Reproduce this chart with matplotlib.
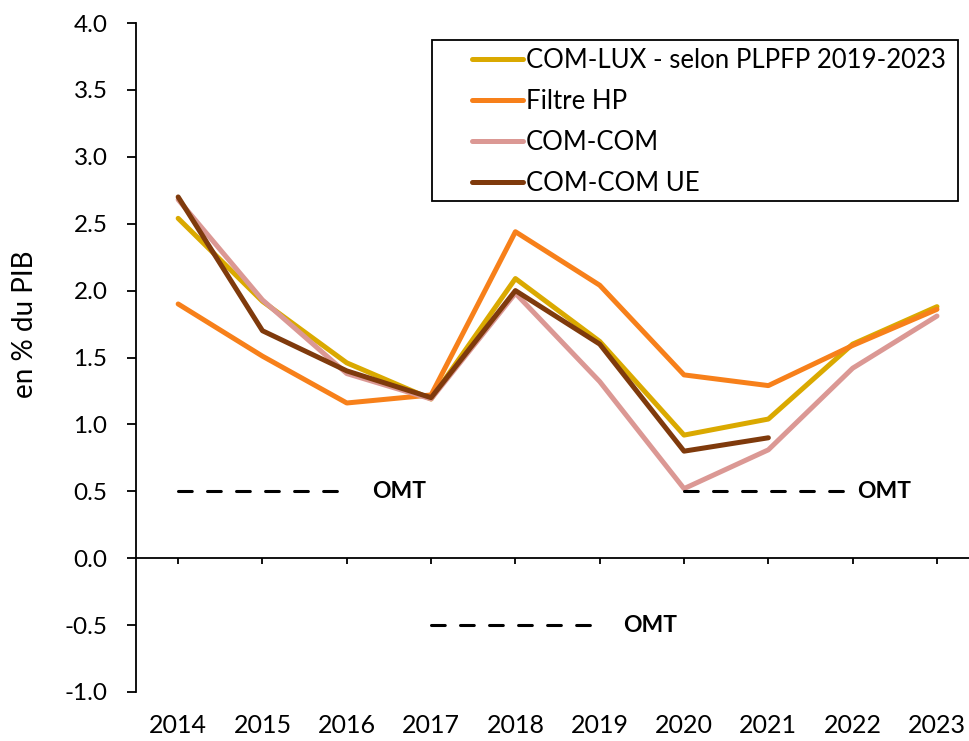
import matplotlib
matplotlib.use('Agg')
from matplotlib import pyplot as plt
from matplotlib.patches import Rectangle

years = ['2014', '2015', '2016', '2017', '2018', '2019', '2020', '2021', '2022', '2023']
com_lux = [2.54, 1.92, 1.46, 1.19, 2.09, 1.62, 0.92, 1.04, 1.60, 1.88]
filtre_hp = [1.90, 1.51, 1.16, 1.22, 2.44, 2.04, 1.37, 1.29, 1.59, 1.86]
com_com = [2.68, 1.93, 1.38, 1.19, 1.98, 1.32, 0.52, 0.81, 1.42, 1.81]
com_com_ue = [2.70, 1.70, 1.40, 1.20, 2.00, 1.60, 0.80, 0.90]

# OMT segments: (start index, end index, value)
omt = [(0, 2, 0.5), (3, 5, -0.5), (6, 8, 0.5)]
omt_label_x = [2.30, 5.28, 8.05]

plt.rcParams['font.family'] = ['Lato', 'DejaVu Sans']

W, H = 969, 741
fig = plt.figure(figsize=(W / 100, H / 100), dpi=100)
ax = fig.add_axes([136 / W, 49 / H, 833 / W, 669 / H])

x = list(range(len(years)))
lw = 3.6
ax.plot(x, com_lux, color='#DAA900', lw=lw, label='COM-LUX - selon PLPFP 2019-2023', solid_capstyle='round')
ax.plot(x, filtre_hp, color='#F7801A', lw=lw, label='Filtre HP', solid_capstyle='round')
ax.plot(x, com_com, color='#DB9894', lw=lw, label='COM-COM', solid_capstyle='round')
ax.plot(x[:len(com_com_ue)], com_com_ue, color='#7F3A0C', lw=lw, label='COM-COM UE', solid_capstyle='round')

for (a, b, v), tx in zip(omt, omt_label_x):
    ln, = ax.plot([a, b], [v, v], color='black', lw=2.2, dash_capstyle='round')
    ln.set_dashes((4.5, 5.0))
    ax.text(tx, v, 'OMT', fontsize=16.5, fontweight='bold', va='center', ha='left')

ax.set_xlim(-0.5, (W - 178) / 84.33)
ax.set_ylim(-1.0, 4.0)
yt = [-1.0, -0.5, 0.0, 0.5, 1.0, 1.5, 2.0, 2.5, 3.0, 3.5, 4.0]
ax.set_yticks(yt)
ax.set_yticklabels(['%.1f' % v for v in yt])
ax.set_xticks(x)
ax.set_xticklabels(years)

ax.spines['top'].set_visible(False)
ax.spines['right'].set_visible(False)
ax.spines['bottom'].set_position(('data', 0))
ax.spines['left'].set_linewidth(1.3)
ax.spines['bottom'].set_linewidth(1.3)
ax.tick_params(axis='y', direction='out', length=6.5, width=1.3, pad=14, labelsize=17.5)
ax.tick_params(axis='x', direction='out', length=4.5, width=1.3, pad=108, labelsize=18)

ax.set_ylabel('en % du PIB', fontsize=20)
ax.yaxis.set_label_coords(-0.118, 0.549)

# legend box drawn separately so the handles can sit inset like the original
ax.add_patch(Rectangle(((432 - 136) / 833, (692 - 201) / 669), (958 - 432) / 833, 161 / 669,
                       transform=ax.transAxes, fill=False, edgecolor='black', lw=1.3,
                       clip_on=False, zorder=5))
leg = ax.legend(loc='upper left', bbox_to_anchor=((472 - 136) / 833, (692 - 48) / 669),
                borderaxespad=0, borderpad=0, fontsize=18.5, frameon=False,
                handlelength=2.0, handletextpad=0.1, labelspacing=0.62)

fig.savefig('out.png', dpi=100)
